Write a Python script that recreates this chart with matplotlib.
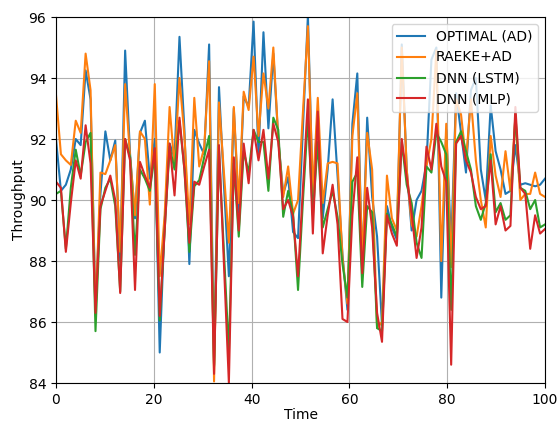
import numpy as np
import matplotlib
matplotlib.use("Agg")
import matplotlib.pyplot as plt

optimal = [92.0, 90.3, 90.5, 91.0, 92.0, 91.8, 94.25, 93.3, 86.5, 90.2,
           92.25, 91.3, 91.95, 88.0, 94.9, 91.5, 89.4, 92.2, 92.6, 90.7,
           92.0, 85.0, 89.3, 91.85, 91.4, 95.35, 92.3, 87.9, 92.3, 91.85,
           91.5, 95.1, 84.6, 93.7, 90.5, 87.5, 93.0, 89.6, 93.4, 93.05,
           95.85, 91.5, 95.5, 92.35, 94.8, 92.0, 90.2, 90.75, 88.95, 88.75,
           92.4, 96.05, 90.1, 92.9, 89.4, 91.0, 93.3, 90.8, 88.2, 86.4,
           92.5, 94.15, 87.7, 92.7, 90.1, 88.8, 85.9, 89.8, 89.1, 88.7,
           95.1, 91.0, 89.0, 90.0, 90.3, 91.2, 94.6, 95.0, 86.8, 92.3,
           88.5, 93.5, 92.2, 90.9, 93.6, 94.0, 91.0, 90.0, 93.1, 91.6,
           91.0, 90.2, 90.3, 91.8, 90.5, 90.55, 90.5, 90.45, 90.5, 90.7]

raeke = [93.45, 91.5, 91.3, 91.15, 92.6, 92.2, 94.8, 93.6, 86.2, 90.9,
         90.85, 91.3, 91.8, 88.3, 93.8, 91.4, 89.5, 92.25, 92.0, 89.85,
         93.8, 87.5, 89.5, 93.05, 91.1, 94.0, 92.1, 89.2, 93.35, 91.1,
         91.7, 94.55, 84.05, 93.2, 90.9, 88.6, 93.05, 89.9, 93.55, 92.95,
         94.7, 92.1, 94.15, 93.0, 95.0, 92.0, 90.1, 91.1, 89.55, 90.0,
         92.9, 95.7, 90.2, 93.35, 89.9, 91.2, 91.25, 91.2, 88.1, 86.6,
         92.1, 93.5, 87.9, 92.2, 91.0, 85.8, 86.0, 90.8, 89.4, 89.0,
         95.0, 91.0, 89.2, 88.8, 89.8, 91.1, 92.0, 94.9, 88.0, 92.5,
         87.8, 93.3, 92.8, 91.3, 93.3, 91.3, 90.0, 89.1, 92.1, 90.8,
         90.1, 91.6, 90.3, 92.7, 90.0, 90.2, 90.2, 90.9, 90.2, 90.1]

lstm = [90.2, 90.3, 88.4, 90.4, 91.65, 90.8, 91.9, 92.2, 85.7, 89.7,
        90.4, 90.7, 89.8, 87.0, 92.0, 91.4, 88.2, 91.0, 90.7, 90.3,
        91.5, 86.05, 89.0, 91.75, 91.0, 92.6, 91.0, 88.3, 90.45, 90.65,
        91.4, 92.1, 84.55, 91.6, 88.3, 85.0, 91.2, 88.8, 91.6, 90.9,
        92.3, 91.9, 91.9, 90.3, 92.7, 92.3, 89.45, 90.3, 89.55, 87.05,
        90.0, 92.7, 89.5, 91.9, 89.1, 89.7, 90.3, 89.45, 87.9, 86.8,
        90.6, 90.9, 87.15, 89.8, 89.6, 85.8, 85.7, 89.55, 89.2, 88.8,
        91.9, 90.5, 89.9, 88.6, 88.1, 91.1, 90.9, 92.2, 91.9, 91.5,
        86.4, 91.9, 92.25, 91.6, 91.0, 89.8, 89.35, 89.9, 91.5, 89.6,
        89.9, 89.35, 89.5, 92.8, 90.4, 90.3, 89.7, 90.0, 89.1, 89.2]

mlp = [90.6, 90.4, 88.3, 89.9, 91.3, 90.7, 92.45, 91.2, 86.3, 89.8,
       90.3, 90.8, 90.0, 86.95, 92.0, 91.3, 87.05, 91.25, 90.8, 90.4,
       91.7, 86.2, 89.0, 91.85, 90.15, 92.7, 91.0, 88.6, 90.6, 90.5,
       91.1, 91.65, 84.3, 91.8, 87.9, 84.0, 91.4, 89.0, 91.85, 90.55,
       92.3, 91.3, 92.3, 90.7, 92.5, 91.9, 89.7, 90.0, 89.45, 87.5,
       90.4, 93.3, 88.9, 92.9, 88.25, 89.5, 90.5, 89.2, 86.1, 86.0,
       89.5, 91.4, 87.6, 90.4, 89.1, 86.3, 85.35, 89.5, 88.9, 88.5,
       92.0, 90.75, 89.55, 88.1, 89.1, 91.75, 91.0, 92.5, 91.1, 90.6,
       84.6, 91.85, 92.1, 91.3, 90.9, 90.1, 89.7, 89.8, 91.3, 89.2,
       89.8, 89.0, 89.15, 93.05, 90.4, 90.2, 88.4, 89.5, 88.9, 89.05]

time = np.linspace(0, 100, len(optimal))

fig = plt.figure(figsize=(5.57, 4.22), dpi=100)
ax = fig.add_axes([0.1005, 0.0924, 0.878, 0.8673])

ax.plot(time, optimal, label='OPTIMAL (AD)')
ax.plot(time, raeke, label='RAEKE+AD')
ax.plot(time, lstm, label='DNN (LSTM)')
ax.plot(time, mlp, label='DNN (MLP)')

ax.set_xlim(0, 100)
ax.set_ylim(84, 96)
ax.set_xlabel('Time', labelpad=1)
ax.set_ylabel('Throughput', labelpad=2)
ax.grid(True)
ax.legend(loc='upper right')

fig.savefig('out.png', dpi=100)
